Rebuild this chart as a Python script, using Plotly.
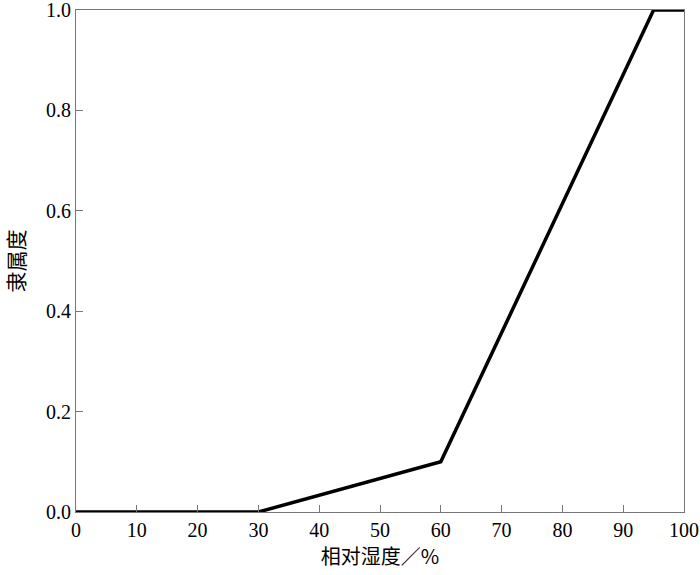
import plotly.graph_objects as go

humidity = [0, 30, 60, 95, 100]
membership = [0.0, 0.0, 0.1, 1.0, 1.0]
x_ticks = [0, 10, 20, 30, 40, 50, 60, 70, 80, 90, 100]
y_ticks = [0.0, 0.2, 0.4, 0.6, 0.8, 1.0]
y_tick_text = ["0.0", "0.2", "0.4", "0.6", "0.8", "1.0"]

fig = go.Figure()
fig.add_trace(go.Scatter(x=humidity, y=membership, mode="lines",
                         line=dict(color="black", width=3.5), cliponaxis=False,
                         showlegend=False))

font = "Liberation Serif, Times New Roman, Noto Sans CJK SC, serif"
cjk = "Noto Sans CJK SC, serif"
fig.update_layout(
    width=700, height=575,
    margin=dict(l=76, r=16, t=10, b=63),
    plot_bgcolor="white", paper_bgcolor="white",
    font=dict(family=font, size=20, color="black"),
    xaxis=dict(range=[0, 100], tickvals=x_ticks, ticks="inside", ticklen=7,
               tickcolor="#777", linecolor="#777", linewidth=1, mirror=True,
               showgrid=False, zeroline=False, automargin=False,
               ticklabeloverflow="allow",
               title=dict(text="相对湿度／%", standoff=8,
                          font=dict(family=cjk, size=20))),
    yaxis=dict(range=[0, 1], tickvals=y_ticks, ticktext=y_tick_text,
               ticks="inside", ticklen=7,
               tickcolor="#777", linecolor="#777", linewidth=1, mirror=True,
               showgrid=False, zeroline=False, automargin=False,
               ticklabeloverflow="allow",
               title=dict(text="隶属度", standoff=24,
                          font=dict(family=cjk, size=21))),
)
fig.write_html("out.html", config={"displayModeBar": False},
               post_script="document.body.style.margin='0';document.body.style.overflow='hidden';")
